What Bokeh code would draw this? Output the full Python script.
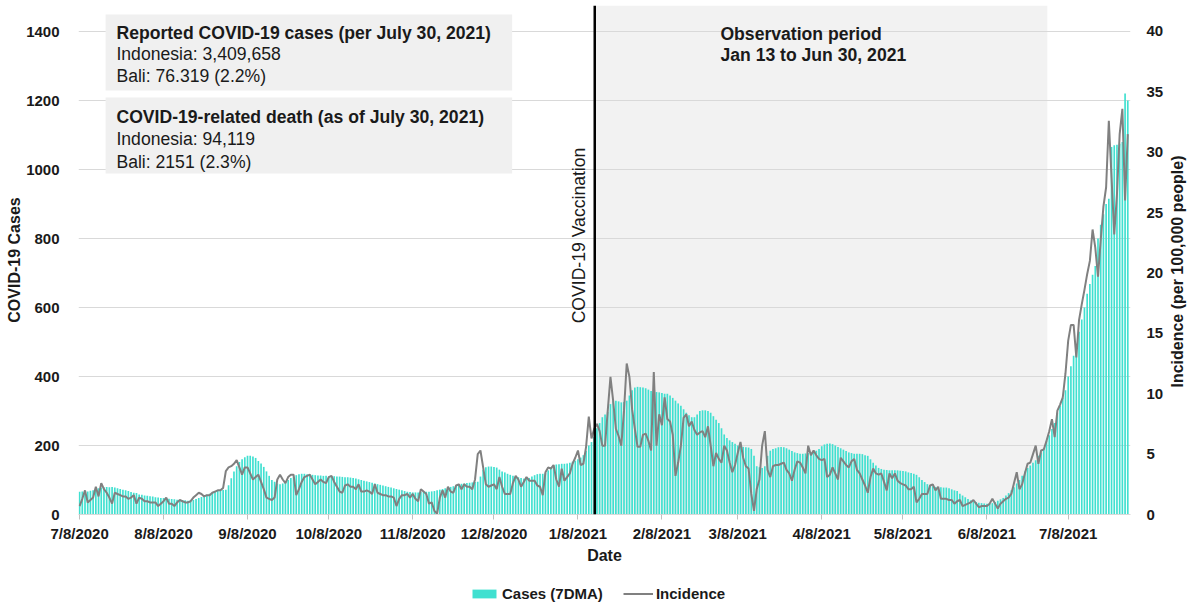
import numpy as np
import pandas as pd
from bokeh.plotting import figure
from bokeh.layouts import row, column
from bokeh.models import (ColumnDataSource, Range1d, LinearAxis, FixedTicker,
                          BoxAnnotation, Span, Legend, LegendItem)
from bokeh.core.properties import value
from bokeh.embed import file_html
from bokeh.resources import INLINE

# ---------------- data ----------------
start_date = "2020-07-08"   # daily series, 7/8/2020 .. 7/30/2021

# Cases, 7-day moving average (left axis)
cases = [
    66, 67, 68, 67, 69, 70, 72,
    76, 78, 79, 80, 79, 80, 78,
    76, 74, 72, 70, 68, 65, 63, 62,
    58, 57, 55, 54, 53, 52, 50,
    49, 48, 48, 47, 46, 45, 44,
    43, 42, 41, 41, 40, 40, 42,
    45, 48, 51, 54, 57,
    60, 63, 66, 68, 70, 71, 72,
    85, 105, 125, 140, 152,
    160, 166, 170, 170, 168, 164,
    155, 148, 138, 125, 112,
    100, 95, 90, 88, 90, 95, 100, 106,
    110, 114, 117, 118, 118, 117, 116, 115,
    114, 113, 113, 112, 112,
    110, 111, 111, 110, 110, 109, 108, 108, 107, 106,
    104, 102, 100, 98, 96, 94, 92, 90,
    88, 86, 84, 82, 80, 78, 76, 74,
    72, 70, 68, 66, 65, 64, 64,
    64, 65, 65, 66, 66, 67, 68,
    70, 72, 74, 76, 78, 80, 82, 85,
    88, 89, 90, 91, 92, 93, 94, 95, 110,
    130, 137, 139, 139, 138, 136, 130,
    125, 122, 118, 115,
    112, 110, 108, 106, 104, 104, 106,
    110, 114, 117, 118, 118, 120, 128,
    138, 142, 145, 146, 147, 147, 148, 150,
    153, 156, 160, 165, 172, 185,
    200, 210, 225, 250,
    265, 282, 290, 297,
    320, 330,
    330, 328, 325, 326, 330,
    345, 360, 368, 370, 369, 368, 366, 362,
    358, 356, 355, 354, 352, 350,
    350, 345, 338, 330,
    322, 315, 305, 295, 288,
    282, 282, 290,
    300, 302, 302, 300, 295,
    285, 275, 265, 250,
    232, 222, 215, 210, 205, 200,
    198, 196, 195, 194, 190, 170,
    140, 137, 135, 140, 170,
    185, 190, 192, 195, 196,
    195, 192, 188, 184, 180, 178, 176,
    176, 177, 178, 180, 182, 185, 190,
    198, 203, 205, 206, 204, 200,
    196, 192, 188, 184, 180, 178, 176,
    176, 176, 175, 172, 170,
    160, 150, 142,
    135, 132, 130, 129, 128,
    128, 128, 128, 127, 126, 125,
    122, 120, 118, 115,
    108, 100, 94, 88, 84,
    82, 80, 79, 79, 78, 78, 76,
    73, 70, 68,
    60, 55, 50, 45, 41,
    38, 36, 34, 33, 32, 31, 31,
    33, 36, 40, 44, 48,
    55, 62, 70, 79,
    90, 100, 112, 125,
    135, 142, 150, 157,
    170, 180, 192,
    215, 230, 248, 265,
    295, 315, 338, 360,
    400, 430, 460,
    495, 530, 565, 600,
    640, 668, 695, 720,
    800, 840, 870, 900,
    915,
    1065, 1070, 1072, 1075, 1080,
    1220,
    1200,
]

# Incidence per 100,000 people (right axis)
incidence = [
    0.7, 1.3, 2.0, 1.0, 1.2, 1.4, 2.3, 1.5, 2.6, 2.1,
    1.8, 1.4, 0.9, 1.8, 1.7, 1.6, 1.5, 1.5, 1.3, 1.4,
    1.6, 0.9, 1.4, 1.3, 1.1, 1.1, 1.0, 1.0, 1.0, 0.7,
    0.9, 1.1, 1.4, 0.9, 0.9, 0.7, 1.0, 1.2, 1.1, 1.0,
    1.0, 1.1, 1.4, 1.6, 1.8, 1.7, 1.5, 1.6, 1.6, 1.8,
    1.9, 2.0, 2.0, 2.2, 3.6, 3.9, 4.0, 4.2, 4.5, 3.9,
    3.3, 3.9, 3.9, 3.4, 2.9, 3.1, 3.3, 2.7, 2.1, 1.4,
    1.3, 1.2, 1.4, 2.9, 3.3, 2.9, 2.6, 3.1, 3.3, 3.3,
    1.6, 2.1, 2.7, 3.1, 3.2, 3.3, 2.9, 2.5, 2.7, 2.9,
    2.7, 2.6, 3.1, 3.2, 2.7, 2.3,
    1.9, 1.8, 2.4, 2.5,
    2.3, 2.3, 2.1, 2.5, 1.9, 1.9, 2.0, 1.9, 1.7, 2.5,
    1.8, 1.7, 1.6, 1.6, 1.5, 1.5, 1.4, 0.7, 1.3, 1.6,
    1.6, 1.7, 1.4, 1.7, 1.3, 1.1, 2.1, 1.9, 1.7, 0.9,
    1.0, 0.3, 0.05, 1.4, 2.0, 1.4, 2.3, 1.9, 1.8, 2.4,
    2.5, 2.1, 2.5, 2.3, 2.3, 2.1, 2.9, 5.0, 5.3, 3.9,
    2.5, 2.3, 2.4, 2.5, 2.1, 3.1, 2.3, 1.7, 1.7, 1.7,
    2.6, 3.2, 2.9, 2.3, 2.7, 3.1, 2.8, 2.8, 2.8, 2.4,
    2.3, 1.6, 3.5, 3.9, 3.8, 4.1, 2.9, 2.3, 3.8, 2.8,
    3.1, 3.4, 4.2, 4.7, 5.3, 4.1, 4.2, 5.6, 8.1, 6.3,
    7.1, 7.5, 6.9, 5.7, 5.7, 8.6, 11.4, 9.4, 7.1, 6.5,
    5.7, 8.6, 12.5, 11.4, 8.7, 7.1, 5.6, 5.6, 6.6, 6.7,
    6.1, 5.3, 11.8, 5.7, 8.3, 7.4, 9.7, 7.9, 7.7, 6.6,
    3.2, 4.3, 5.7, 8.0, 8.3, 7.3, 7.7, 7.0, 6.6, 6.8,
    6.9, 6.4, 7.3, 5.7, 4.0, 5.1, 4.6, 4.3, 5.7, 5.3,
    4.3, 3.5, 4.1, 5.1, 6.0, 4.7, 4.0, 3.8, 1.7, 0.3,
    2.1, 2.9, 5.7, 6.9, 3.7, 3.1, 4.0, 4.1, 4.1, 4.2,
    4.3, 3.7, 3.4, 2.8, 3.7, 4.4, 4.3, 3.9, 3.4, 5.7,
    4.9, 5.3, 4.9, 4.6, 4.5, 4.6, 3.1, 3.3, 3.9, 3.4,
    2.9, 4.7, 4.4, 4.1, 3.9, 4.4, 4.6, 3.7, 3.4, 2.9,
    2.4, 1.8, 3.1, 3.8, 3.4, 3.3, 3.4, 2.7, 2.0, 3.4,
    3.0, 3.4, 2.8, 2.6, 2.5, 2.4, 2.1, 2.1, 2.3, 1.0,
    1.3, 1.7, 1.7, 1.7, 2.4, 2.5, 2.0, 2.3, 1.3, 1.3,
    1.3, 1.2, 1.2, 0.9, 1.1, 1.2, 0.7, 0.8, 0.9, 1.0,
    1.2, 0.9, 0.6, 0.7, 0.7, 0.7, 0.9, 1.3, 0.9, 0.5,
    0.9, 1.1, 1.3, 1.4, 1.7, 2.6, 3.5, 2.1, 2.5, 3.4,
    4.2, 4.3, 5.0, 5.7, 4.2, 5.3, 5.4, 6.1, 6.9, 7.9,
    6.4, 8.6, 9.1, 9.7, 11.7, 14.4, 15.7, 15.7, 13.0, 16.1,
    17.4, 18.6, 19.9, 21.0, 23.6, 22.1, 19.7, 22.7, 25.5, 27.1,
    32.6, 27.9, 23.2, 26.5, 31.5, 33.6, 26.0, 31.5,
]

tick_dates = ["2020-07-08", "2020-08-08", "2020-09-08", "2020-10-08",
              "2020-11-08", "2020-12-08", "2021-01-08", "2021-02-08",
              "2021-03-08", "2021-04-08", "2021-05-08", "2021-06-08",
              "2021-07-08"]
tick_labels = ["7/8/2020", "8/8/2020", "9/8/2020", "10/8/2020", "11/8/2020",
               "12/8/2020", "1/8/2021", "2/8/2021", "3/8/2021", "4/8/2021",
               "5/8/2021", "6/8/2021", "7/8/2021"]
left_ticks = [0, 200, 400, 600, 800, 1000, 1200, 1400]
right_ticks = [0, 5, 10, 15, 20, 25, 30, 35, 40]
legend_labels = ["Cases (7DMA)", "Incidence"]

box1_lines = ["Reported COVID-19 cases (per July 30, 2021)",
              "Indonesia: 3,409,658", "Bali: 76.319 (2.2%)"]
box2_lines = ["COVID-19-related death (as of July 30, 2021)",
              "Indonesia: 94,119", "Bali: 2151 (2.3%)"]
obs_lines = ["Observation period", "Jan 13 to Jun 30, 2021"]
right_title = "Incidence (per 100,000 people)"

# ---------------- helpers ----------------
DAY = 86400000.0
T0 = pd.Timestamp(start_date)


def ms(d):
    """start date + d days, in epoch milliseconds"""
    return (T0 + pd.Timedelta(days=d)).value / 1e6


dates = pd.date_range(start_date, periods=len(cases), freq="D")
dates_inc = pd.date_range(start_date, periods=len(incidence), freq="D")
src_cases = ColumnDataSource(dict(date=dates, cases=cases))
src_inc = ColumnDataSource(dict(date=dates_inc, inc=incidence))

FONT = "Liberation Sans"
TXT = "#1a1a1a"
ANN = "17.6px"
BAR_COLOR = "#40E0D0"
LINE_COLOR = "#808080"
H_MAIN = 577
H_LEG = 30
W_MAIN = 1166
W_SIDE = 26
B_TOP = 5
B_BOTTOM = 63

p = figure(width=W_MAIN, height=H_MAIN, x_axis_type="datetime",
           output_backend="svg", toolbar_location=None,
           x_range=Range1d(ms(-0.4), ms(388.0)),
           y_range=Range1d(0, 1475.4),
           min_border_left=78, min_border_right=33,
           min_border_top=B_TOP, min_border_bottom=B_BOTTOM)
p.extra_y_ranges = {"inc": Range1d(0, 42.15)}
p.outline_line_color = None
p.background_fill_color = "white"
p.border_fill_color = "white"

# observation period shading (under the grid)
p.add_layout(BoxAnnotation(left=ms(190.2), right=ms(357.3),
                           fill_color="#f2f2f2", fill_alpha=1.0,
                           line_alpha=0, level="image"))

# grid
p.xgrid.visible = False
p.ygrid.grid_line_color = "#d9d9d9"
p.ygrid.grid_line_width = 1

# bars + line
bars = p.vbar(x="date", top="cases", width=0.62 * DAY, source=src_cases,
              fill_color=BAR_COLOR, line_color=None)
ln = p.line(x="date", y="inc", source=src_inc, y_range_name="inc",
            line_color=LINE_COLOR, line_width=2)

# text boxes
p.quad(left=[ms(9.6), ms(9.6)], right=[ms(159.7), ms(159.7)],
       top=[1449.3, 1208.7], bottom=[1229.0, 988.4],
       fill_color="#f0f0f0", line_color=None)

tx = ms(13.6)
p.text(x=[tx, tx], y=[1397, 1151], text=[box1_lines[0], box2_lines[0]],
       text_font=value(FONT), text_font_size=value(ANN),
       text_font_style="bold", text_color=TXT,
       text_align="left", text_baseline="middle")
p.text(x=[tx, tx, tx, tx], y=[1336, 1272, 1087, 1023],
       text=[box1_lines[1], box1_lines[2], box2_lines[1], box2_lines[2]],
       text_font=value(FONT), text_font_size=value(ANN),
       text_font_style="normal", text_color=TXT,
       text_align="left", text_baseline="middle")

# observation period label
ox = ms(236.6)
p.text(x=[ox, ox], y=[1394, 1333], text=obs_lines,
       text_font=value(FONT), text_font_size=value(ANN),
       text_font_style="bold", text_color=TXT,
       text_align="left", text_baseline="middle")

# vaccination line + label
p.add_layout(Span(location=ms(190.2), dimension="height",
                  line_color="black", line_width=2.5))
p.text(x=[ms(184.3)], y=[808.7], text=["COVID-19 Vaccination"],
       angle=np.pi / 2, text_font=value(FONT), text_font_size=value(ANN),
       text_color=TXT, text_align="center", text_baseline="middle")

# ---------------- axes ----------------
tick_ms = [pd.Timestamp(t).value / 1e6 for t in tick_dates]
xa = p.xaxis[0]
xa.ticker = FixedTicker(ticks=tick_ms)
xa.major_label_overrides = {t: l for t, l in zip(tick_ms, tick_labels)}
xa.axis_label = "Date"
xa.axis_line_color = "#d9d9d9"
xa.major_tick_line_color = "#bfbfbf"
xa.major_tick_out = 5
xa.major_tick_in = 0
xa.minor_tick_line_color = None
xa.major_label_standoff = 5
xa.axis_label_standoff = 2

ya = p.yaxis[0]
ya.ticker = FixedTicker(ticks=left_ticks)
ya.bounds = (0, 1400)
ya.axis_label = "COVID-19 Cases"
ya.axis_line_color = None
ya.major_tick_line_color = None
ya.minor_tick_line_color = None
ya.major_label_standoff = 13
ya.axis_label_standoff = 0

ra = LinearAxis(y_range_name="inc", ticker=FixedTicker(ticks=right_ticks))
ra.axis_line_color = None
ra.major_tick_line_color = None
ra.minor_tick_line_color = None
ra.major_label_standoff = 10
p.add_layout(ra, "right")

for ax in (xa, ya, ra):
    ax.major_label_text_font = FONT
    ax.major_label_text_font_size = "15px"
    ax.major_label_text_font_style = "bold"
    ax.major_label_text_color = TXT
    ax.axis_label_text_font = FONT
    ax.axis_label_text_font_size = "16px"
    ax.axis_label_text_font_style = "bold"
    ax.axis_label_text_color = TXT

# ---------------- right-hand axis title (reads bottom to top) ----------------
side_frame_h = H_MAIN - B_TOP - B_BOTTOM          # 509 px, same as main frame
side = figure(width=W_SIDE, height=H_MAIN, output_backend="svg",
              toolbar_location=None, x_range=Range1d(0, W_SIDE),
              y_range=Range1d(0, side_frame_h), x_axis_location=None,
              y_axis_location=None, min_border_left=0, min_border_right=0,
              min_border_top=B_TOP, min_border_bottom=B_BOTTOM)
side.outline_line_color = None
side.grid.visible = False
side.text(x=[11], y=[(H_MAIN - B_BOTTOM) - 271], text=[right_title],
          angle=np.pi / 2,
          text_font=value(FONT), text_font_size=value("16px"),
          text_font_style="bold", text_color=TXT,
          text_align="center", text_baseline="middle")

# ---------------- legend strip below the chart ----------------
leg = figure(width=W_MAIN + W_SIDE, height=H_LEG, output_backend="svg",
             toolbar_location=None, x_range=Range1d(0, 1), y_range=Range1d(0, 1),
             x_axis_location=None, y_axis_location=None, min_border=0)
leg.outline_line_color = None
leg.grid.visible = False
# legend key glyphs (styled like the chart's series, placed outside the view)
kb = leg.vbar(x=[-5], top=[-5], width=0.5, fill_color=BAR_COLOR, line_color=None)
kl = leg.line(x=[-5, -4], y=[-5, -5], line_color=LINE_COLOR, line_width=2)
legend = Legend(items=[LegendItem(label=legend_labels[0], renderers=[kb]),
                       LegendItem(label=legend_labels[1], renderers=[kl])],
                location=(469, 5), orientation="horizontal",
                glyph_width=30, glyph_height=11, label_standoff=3,
                spacing=20, padding=0, margin=0, label_height=16,
                border_line_alpha=0, background_fill_alpha=0,
                label_text_font=FONT, label_text_font_size="15px",
                label_text_font_style="bold", label_text_color=TXT)
leg.add_layout(legend)

layout = column(row(p, side, spacing=0), leg, spacing=0)
open("out.html", "w").write(file_html(layout, INLINE))
